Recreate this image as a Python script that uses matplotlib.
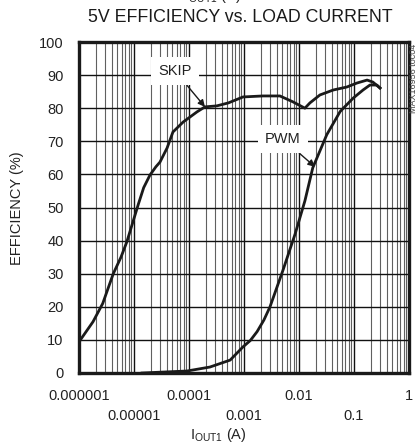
import numpy as np
import matplotlib
matplotlib.use("Agg")
import matplotlib.pyplot as plt
from matplotlib import font_manager as fm
from matplotlib.ticker import LogLocator, NullFormatter

names = {f.name for f in fm.fontManager.ttflist}
fam = [n for n in ["Liberation Sans Narrow", "Liberation Sans", "DejaVu Sans"] if n in names]
plt.rcParams['font.family'] = fam

# Data
skip_i = [1e-6, 1.8e-6, 2.7e-6, 4.2e-6, 5.8e-6, 7.4e-6, 1.2e-5, 1.5e-5, 1.95e-5, 2.5e-5,
          2.96e-5, 4e-5, 5.1e-5, 7.8e-5, 1.4e-4, 1.95e-4, 3.2e-4, 5.2e-4, 9.6e-4, 2.2e-3,
          4.5e-3, 7.8e-3, 1.28e-2, 1.58e-2, 2.4e-2, 4.2e-2, 7.4e-2, 1.13e-1, 1.73e-1,
          2.2e-1, 2.97e-1]
skip_eff = [9.4, 15.5, 21, 30, 35, 39.6, 51, 56, 59.8, 62.3,
            63.7, 68, 72.8, 75.8, 78.9, 80.4, 80.7, 81.6, 83.4, 83.7,
            83.7, 81.9, 80, 81.6, 84, 85.5, 86.4, 87.6, 88.5,
            87.9, 86.1]
pwm_i = [1.4e-5, 9.2e-5, 2.4e-4, 5.6e-4, 9.6e-4, 1.3e-3, 1.73e-3, 2.3e-3, 2.97e-3, 5.1e-3,
         8.5e-3, 1.28e-2, 1.78e-2, 3.2e-2, 5.6e-2, 9.6e-2, 1.46e-1, 1.95e-1, 2.6e-1, 2.97e-1]
pwm_eff = [0.0, 0.6, 1.8, 3.9, 7.9, 9.8, 12.5, 16, 20, 31,
           42, 52, 62, 72, 79, 83, 85.5, 87, 87, 86.1]

x_row1 = [1e-6, 1e-4, 1e-2, 1]
x_row1_lbl = ["0.000001", "0.0001", "0.01", "1"]
x_row2 = [1e-5, 1e-3, 1e-1]
x_row2_lbl = ["0.00001", "0.001", "0.1"]
y_ticks = list(range(0, 101, 10))

W, H = 420, 446
fig = plt.figure(figsize=(W / 100, H / 100), dpi=100)
ax = fig.add_axes([79 / W, 1 - 373 / H, 330 / W, 331 / H])
ax.set_xscale('log')
ax.set_xlim(1e-6, 1)
ax.set_ylim(0, 100)

# grid
ax.xaxis.set_minor_locator(LogLocator(base=10, subs=np.arange(2, 10)))
ax.xaxis.set_minor_formatter(NullFormatter())
ax.set_yticks(y_ticks)
ax.grid(which='major', axis='both', color='#111111', lw=1.0)
ax.grid(which='minor', axis='x', color='#606060', lw=0.8)
ax.tick_params(which='both', length=0)
ax.set_axisbelow(True)
for s in ax.spines.values():
    s.set_linewidth(2.4)
    s.set_color('#1a1a1a')

ax.plot(skip_i, skip_eff, color='#1a1a1a', lw=2.0, zorder=3)
ax.plot(pwm_i, pwm_eff, color='#1a1a1a', lw=2.0, zorder=3)

fs = 10.5
tc = '#222222'
ax.set_yticklabels([str(v) for v in y_ticks], fontsize=fs, color=tc)
ax.tick_params(axis='y', pad=11)
ax.set_xticks(x_row1 + x_row2)
ax.set_xticklabels([])
tr = ax.get_xaxis_transform()
for x, l in zip(x_row1, x_row1_lbl):
    ax.text(x, -0.07, l, transform=tr, ha='center', va='center', fontsize=fs, color=tc)
for x, l in zip(x_row2, x_row2_lbl):
    ax.text(x, -0.13, l, transform=tr, ha='center', va='center', fontsize=fs, color=tc)
fig.text(218 / W, 1 - 435 / H, r"I$_{\mathregular{OUT1}}$ (A)", ha='center', va='center',
         fontsize=fs, color=tc)
fig.text(17 / W, 1 - 208 / H, "EFFICIENCY (%)", rotation=90, ha='center', va='center',
         fontsize=fs, color=tc)
fig.text(240 / W, 1 - 18 / H, "5V EFFICIENCY vs. LOAD CURRENT", ha='center', va='center',
         fontsize=12.8, color='#1a1a1a')
fig.text(210 / W, 1 - 5 / H, r"V$_{\mathregular{OUT1}}$ (V)", ha='center', va='bottom',
         fontsize=10.5, color=tc)
fig.text(414 / W, 1 - 78 / H, "MAX16956 toc04", rotation=90, ha='center', va='center',
         fontsize=6.5, color='#444444')

bbox = dict(boxstyle='square,pad=0.5', fc='white', ec='none')
ax.annotate("SKIP", xy=(1.95e-4, 80.4), xytext=(5.6e-5, 91.2), fontsize=fs,
            ha='center', va='center', color=tc, bbox=bbox, zorder=4,
            arrowprops=dict(arrowstyle='-|>', color='#1a1a1a', lw=1.0,
                            mutation_scale=10, shrinkA=0, shrinkB=0))
ax.annotate("PWM", xy=(1.95e-2, 62.3), xytext=(5.1e-3, 70.7), fontsize=fs,
            ha='center', va='center', color=tc, bbox=bbox, zorder=4,
            arrowprops=dict(arrowstyle='-|>', color='#1a1a1a', lw=1.0,
                            mutation_scale=10, shrinkA=0, shrinkB=0))

fig.savefig("out.png", dpi=100)
